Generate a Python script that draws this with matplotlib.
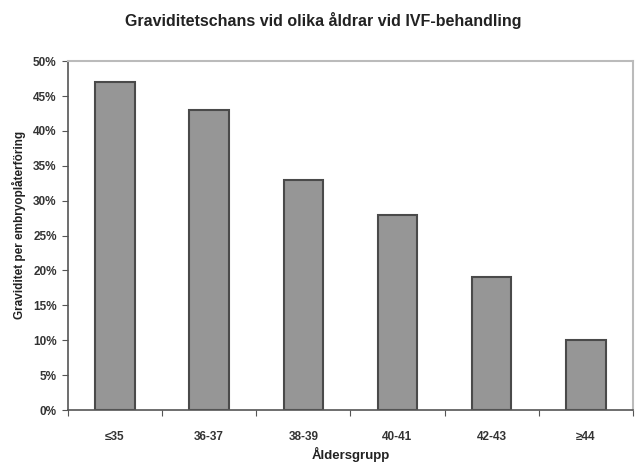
import numpy as np
import matplotlib.pyplot as plt
from matplotlib.ticker import PercentFormatter

# Data
categories = ['≤35', '36-37', '38-39', '40-41', '42-43', '≥44']
values = [47, 43, 33, 28, 19, 10]

plt.rcParams['font.family'] = ['Liberation Sans', 'DejaVu Sans']
plt.rcParams['font.weight'] = 'bold'

fig = plt.figure(figsize=(6.4, 4.67), dpi=100)
ax = fig.add_axes([0.106, 0.122, 0.883, 0.747])

x = np.arange(len(categories))
ax.bar(x, values, width=0.42, color='#969696', edgecolor='#4a4a4a', linewidth=1.5)

ax.set_xlim(-0.5, len(categories) - 0.5)
ax.set_ylim(0, 50)
ax.set_yticks(np.arange(0, 51, 5))
ax.yaxis.set_major_formatter(PercentFormatter(decimals=0))

# ticks between categories, labels centred
ax.set_xticks(np.arange(-0.5, len(categories), 1.0))
ax.set_xticklabels([])
ax.set_xticks(x, minor=True)
ax.set_xticklabels(categories, minor=True)
ax.tick_params(axis='x', which='minor', length=0, pad=15, labelsize=8.5, labelcolor='#333333')
ax.tick_params(axis='x', which='major', length=4, color='#555555')
ax.tick_params(axis='y', length=4, labelsize=8.5, color='#555555', labelcolor='#333333', pad=4)

for s in ['left', 'bottom']:
    ax.spines[s].set_color('#555555')
    ax.spines[s].set_linewidth(1.2)
for s in ['top', 'right']:
    ax.spines[s].set_color('#bbbbbb')
    ax.spines[s].set_linewidth(1.5)

ax.set_xlabel('Åldersgrupp', fontsize=9.5, fontweight='bold', labelpad=3, color='#222222')
ax.set_ylabel('Graviditet per embryoplåterföring', fontsize=8.5, fontweight='bold',
              labelpad=2, color='#222222')
ax.yaxis.set_label_coords(-0.074, 0.53)
fig.suptitle('Graviditetschans vid olika åldrar vid IVF-behandling', x=0.505, y=0.975,
             fontsize=11.5, fontweight='bold', color='#222222')

plt.savefig('out.png', dpi=100)
